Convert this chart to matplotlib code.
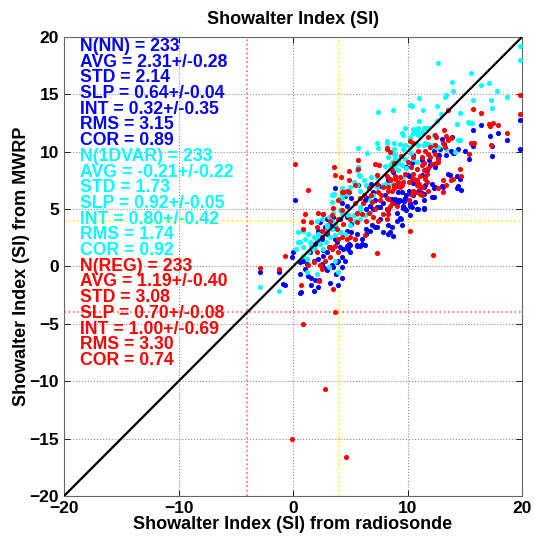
import numpy as np
import matplotlib.pyplot as plt

# Showalter index: radiosonde (x) vs MWRP retrievals (y)
nn = [(19.8, 12.8), (15.7, 11.85), (16.4, 12.3), (17.9, 11.6), (17.2, 11.4), (18.7, 11.0), (19.8, 10.2),
      (17.4, 9.6), (15.7, 10.5), (15.4, 9.4), (13.8, 10.1), (14.1, 9.9), (12.8, 10.2), (12.75, 9.7),
      (11.9, 9.3), (11.7, 8.5), (12.3, 8.9), (13.5, 8.1), (14.3, 7.9), (14.4, 7.0), (13.0, 7.0),
      (12.3, 6.8), (11.3, 6.4), (10.4, 9.0), (10.1, 7.9), (9.7, 5.7), (8.6, 5.9), (8.9, 5.7),
      (9.25, 5.7), (10.3, 6.3), (11.0, 6.7), (3.65, 6.8), (5.7, 7.06), (4.5, 6.1), (0.2, 5.8),
      (5.1, 6.0), (4.25, 5.5), (4.7, 5.3), (6.3, 5.75), (6.7, 5.3), (7.3, 5.2), (7.9, 5.5), (8.2, 5.0),
      (17.4, 10.5), (13.9, 11.3), (13.0, 11.1), (13.2, 10.7), (13.4, 9.75), (14.0, 9.9), (14.4, 10.2),
      (12.3, 10.1), (12.7, 9.5), (11.3, 9.3), (10.5, 9.7), (12.0, 8.8), (12.4, 8.65), (13.7, 8.0),
      (14.6, 7.6), (14.3, 6.8), (14.7, 6.7), (12.1, 7.2), (12.4, 6.9), (11.5, 7.06), (10.9, 6.5),
      (11.4, 6.3), (10.5, 6.2), (10.9, 7.2), (12.3, 6.05), (10.1, 6.6), (9.8, 6.0), (9.3, 5.75),
      (8.9, 5.9), (9.2, 6.5), (8.5, 5.9), (9.05, 5.5), (9.6, 5.3), (10.2, 5.5), (10.65, 5.6),
      (11.4, 5.1), (10.8, 5.0), (9.8, 5.0), (9.9, 8.65), (11.25, 8.0), (11.7, 8.4), (15.0, 10.1),
      (15.6, 10.7), (-2.9, -0.45), (-1.2, -0.5), (0.0, 1.25), (-0.1, 0.8), (0.6, -0.65), (1.05, -0.2),
      (1.35, -0.8), (1.6, -1.0), (1.9, -1.2), (1.6, -1.65), (2.2, -1.8), (3.2, -1.4), (3.95, -1.65),
      (3.75, -0.65), (2.95, -0.2), (3.4, 0.1), (3.8, 0.37), (4.25, -0.05), (4.5, 0.5), (5.0, 1.25),
      (4.4, 1.5), (3.8, 2.1), (4.7, 1.8), (5.0, 1.9), (5.55, 1.9), (5.85, 1.77), (6.3, 1.9), (6.0, 2.4),
      (5.55, 2.85), (5.1, 3.0), (6.4, 3.3), (6.9, 3.6), (7.3, 3.4), (7.6, 4.15), (7.0, 5.0), (7.6, 5.2),
      (6.4, 5.0), (2.05, 2.3), (2.5, 2.4), (2.65, 0.95), (2.95, 1.25), (0.6, -2.3), (-0.85, -1.5),
      (0.67, -2.25), (1.8, -2.1), (2.3, -1.2), (4.25, -1.0), (-0.7, -1.6), (8.3, 4.9), (9.05, 4.7),
      (9.4, 4.15), (8.3, 3.6), (8.5, 3.0), (8.7, 2.65), (10.2, 4.45), (9.6, 5.1), (10.9, 5.0),
      (11.4, 5.0), (10.2, 5.3), (8.3, 2.8), (7.9, 3.0), (8.6, 3.4), (9.35, 4.25), (9.5, 3.6),
      (9.05, 4.0), (9.9, 4.9), (10.4, 5.2), (11.4, 5.75), (12.1, 6.05), (13.1, 6.9), (11.4, 6.9),
      (10.5, 6.5), (9.9, 6.2), (9.2, 5.75), (8.75, 5.5), (7.2, 3.4), (6.7, 3.1), (6.4, 2.85),
      (6.0, 1.98), (5.55, 1.8), (4.8, 1.5), (4.9, 1.98), (4.1, 1.7), (4.25, 0.8), (3.95, 0.5),
      (3.47, -0.05), (2.95, -0.35), (2.65, -0.05), (2.5, 0.23), (2.2, 0.67), (1.8, 0.5), (1.2, 0.23),
      (0.9, 0.5), (0.6, 0.37), (1.5, 1.25), (1.6, 1.7), (1.9, 1.98), (2.65, 1.4), (3.2, 1.7),
      (3.65, 2.4), (2.95, 2.85), (2.5, 2.55), (2.2, 3.1), (2.8, 3.4), (3.2, 3.7), (3.65, 3.4),
      (4.1, 3.0), (4.7, 3.1), (5.1, 3.7), (4.7, 4.3), (4.1, 4.15), (3.5, 4.3), (2.95, 4.15),
      (2.65, 4.6), (2.35, 3.9), (6.5, 6.0), (7.0, 6.5), (7.5, 7.0), (8.0, 6.2), (8.3, 7.5), (9.0, 7.0),
      (9.5, 6.5), (7.2, 5.8), (6.8, 7.2), (8.7, 8.2), (10.0, 8.0), (10.5, 7.3)]

dvar = [(12.7, 17.7), (15.5, 16.9), (19.8, 19.2), (19.8, 17.95), (13.9, 16.1), (17.1, 16.0), (16.4, 15.8),
        (14.0, 15.25), (17.8, 15.3), (13.4, 14.9), (13.3, 14.8), (15.7, 14.5), (18.7, 14.8), (17.3, 14.5),
        (11.0, 14.7), (7.4, 13.5), (8.7, 13.65), (10.2, 14.1), (10.4, 13.95), (11.35, 13.6), (12.55, 14.0),
        (12.6, 12.7), (12.9, 13.3), (14.6, 13.4), (17.4, 13.8), (11.0, 12.7), (15.3, 12.6), (15.4, 12.5),
        (10.5, 12.0), (10.8, 12.0), (11.4, 12.05), (10.5, 11.6), (10.8, 11.8), (12.3, 11.45), (9.6, 11.5),
        (7.3, 10.8), (8.2, 10.9), (7.4, 10.3), (8.85, 10.2), (9.6, 10.2), (11.5, 10.8), (12.5, 10.4),
        (14.55, 11.0), (5.7, 10.3), (6.5, 9.9), (8.8, 9.8), (8.9, 9.4), (9.2, 9.0), (8.5, 8.8), (8.0, 8.75),
        (5.7, 8.65), (5.75, 8.0), (5.85, 7.9), (5.3, 7.35), (4.25, 6.2), (3.5, 6.2), (7.9, 7.06), (8.3, 7.1),
        (7.4, 7.7), (9.9, 8.6), (10.3, 9.9), (9.6, 7.7), (10.95, 12.1), (11.5, 12.1), (11.8, 12.1),
        (10.95, 11.5), (11.25, 11.7), (14.3, 12.4), (15.65, 12.5), (9.5, 11.6), (9.8, 12.1), (10.2, 11.3),
        (8.2, 10.8), (8.8, 10.8), (9.3, 10.7), (9.8, 10.55), (10.2, 10.45), (10.95, 10.6), (11.4, 10.55),
        (11.8, 10.7), (12.25, 10.55), (12.7, 10.45), (13.4, 10.25), (14.4, 11.0), (14.15, 10.0), (8.3, 9.5),
        (8.9, 9.7), (8.6, 9.1), (9.2, 9.25), (9.8, 9.4), (10.5, 9.4), (10.8, 9.1), (9.5, 8.8), (8.9, 8.65),
        (8.5, 8.5), (9.2, 8.4), (5.6, 8.4), (3.4, 5.6), (4.25, 6.0), (-2.9, -1.75), (0.46, 3.0), (0.9, 3.1),
        (1.3, 2.85), (1.05, 2.4), (0.6, 2.1), (1.5, 2.1), (1.8, 2.55), (2.05, 2.4), (1.6, 1.7), (1.3, 1.25),
        (0.9, 0.95), (1.2, 0.67), (1.9, 1.5), (2.35, 1.95), (2.65, 1.5), (2.9, 2.1), (3.2, 2.55), (3.65, 2.7),
        (4.1, 3.0), (4.5, 2.85), (5.0, 3.6), (5.4, 4.0), (5.85, 4.15), (6.3, 4.45), (6.7, 4.7), (5.85, 4.9),
        (5.3, 4.45), (4.8, 4.45), (4.25, 4.6), (3.5, 4.7), (3.1, 4.3), (2.5, 4.15), (2.05, 4.0), (2.95, 3.6),
        (3.4, 3.3), (3.65, 3.7), (2.05, -0.65), (3.1, -0.05), (-1.2, -2.15), (3.4, 6.2), (3.6, 6.3),
        (4.25, 6.8), (4.7, 6.3), (5.55, 7.06), (5.85, 6.6), (6.4, 7.06), (6.7, 5.75), (7.0, 6.2), (7.3, 6.9),
        (8.0, 7.2), (8.75, 7.2), (5.85, 5.2), (5.55, 4.6), (4.1, 4.9), (3.4, 4.0), (2.95, 3.4), (2.2, 2.85),
        (0.9, 1.7), (0.3, 1.5), (0.46, 2.1), (1.2, -0.5), (3.65, 0.5), (3.95, -0.5), (4.0, 5.9), (5.0, 6.9),
        (6.2, 7.5), (6.8, 7.8), (9.0, 9.0)]

reg = [(0.2, 8.95), (1.3, 6.7), (3.6, 8.65), (3.65, 8.0), (4.2, 7.8), (4.9, 8.3), (5.7, 9.3), (5.7, 8.5),
       (4.9, 7.5), (5.4, 7.06), (4.4, 6.45), (4.7, 6.6), (6.6, 6.8), (7.2, 8.95), (7.5, 8.8), (8.85, 9.0),
       (8.2, 10.2), (9.4, 9.6), (10.2, 10.9), (10.5, 10.8), (10.5, 9.55), (10.95, 10.1), (11.3, 9.55),
       (10.0, 9.1), (10.3, 8.7), (11.4, 9.0), (11.4, 8.4), (11.7, 8.1), (11.8, 8.6), (12.5, 9.0), (12.7, 9.4),
       (11.8, 11.3), (12.4, 11.5), (13.2, 11.9), (13.5, 11.0), (13.1, 10.8), (13.8, 11.2), (13.5, 13.6),
       (14.6, 8.5), (13.8, 7.55), (15.7, 13.7), (16.4, 13.4), (17.5, 12.5), (17.2, 12.2), (15.5, 10.8),
       (15.8, 10.8), (15.4, 9.8), (17.3, 10.6), (18.7, 11.65), (19.85, 14.9), (19.8, 13.3), (8.5, 7.6),
       (8.9, 7.9), (8.8, 7.06), (8.3, 6.9), (8.6, 6.6), (9.3, 6.9), (9.6, 7.35), (10.6, 7.6), (10.8, 7.06),
       (11.0, 7.2), (11.3, 6.9), (11.5, 7.75), (11.7, 7.35), (11.8, 6.6), (10.5, 6.6), (11.1, 6.3),
       (7.4, 6.5), (7.7, 6.2), (6.8, 6.2), (6.2, 6.2), (3.5, 5.1), (3.95, 5.75), (4.25, 6.5), (4.85, 6.5),
       (7.3, 8.0), (7.3, 7.2), (7.9, 6.9), (5.85, 6.0), (5.4, 5.5), (6.1, 5.5), (6.9, 5.6), (7.6, 5.75),
       (8.2, 6.0), (17.1, 12.4), (17.9, 12.35), (13.4, 11.4), (12.5, 11.3), (12.4, 10.55), (13.3, 10.4),
       (12.0, 10.4), (11.5, 10.1), (11.8, 9.8), (12.0, 9.5), (12.4, 9.8), (12.7, 9.1), (12.1, 8.95),
       (11.25, 8.8), (10.8, 8.5), (11.1, 7.9), (10.5, 8.1), (10.4, 7.6), (10.8, 7.5), (11.5, 7.6),
       (10.1, 7.35), (9.8, 8.1), (9.3, 7.8), (8.9, 7.6), (9.2, 7.35), (9.5, 7.06), (8.5, 7.5), (8.2, 7.9),
       (8.6, 8.4), (13.1, 7.5), (14.0, 7.6), (14.7, 7.9), (13.4, 7.06), (13.1, 6.5), (12.7, 6.8),
       (11.1, 6.8), (10.65, 6.5), (10.4, 6.3), (10.1, 5.75), (11.25, 6.2), (8.3, 6.6), (8.8, 6.8),
       (8.3, 5.9), (8.2, 10.3), (8.5, 10.0), (-2.9, -0.15), (-1.2, -0.26), (-0.7, 0.9), (0.67, -1.6),
       (2.3, -1.3), (3.5, -1.95), (7.3, 1.16), (1.05, 4.6), (0.9, 4.0), (2.2, 4.7), (2.65, 4.6), (3.4, 4.45),
       (3.95, 4.15), (4.25, 4.9), (0.9, 3.3), (1.6, 3.9), (2.05, 3.4), (2.5, 3.1), (2.95, 3.0), (3.2, 4.0),
       (3.8, 3.3), (3.95, 2.4), (3.1, 1.7), (3.4, 1.5), (3.65, 1.8), (4.25, 2.55), (4.7, 2.4), (3.95, 1.25),
       (3.2, 0.8), (2.8, 0.5), (2.35, 0.1), (2.5, -0.2), (1.8, 0.37), (1.35, 0.1), (2.05, 1.25), (4.4, 3.7),
       (5.0, 4.15), (5.55, 4.7), (6.0, 4.6), (6.4, 4.0), (7.0, 4.3), (7.45, 4.0), (5.0, 2.55), (5.4, 2.4),
       (6.3, 2.7), (3.67, -3.95), (0.9, -5.0), (2.8, -10.65), (-0.1, -15.05), (4.6, -16.6), (8.3, 4.6),
       (8.2, 4.1), (8.5, 5.3), (9.1, 5.3), (10.2, 3.1), (12.2, 1.0), (5.55, 3.9), (6.6, 4.7), (7.2, 5.0),
       (7.9, 4.6), (8.3, 5.0), (8.6, 5.5)]

nn_stats = ['N(NN) = 233', 'AVG = 2.31+/-0.28', 'STD = 2.14', 'SLP = 0.64+/-0.04',
            'INT = 0.32+/-0.35', 'RMS = 3.15', 'COR = 0.89']
dvar_stats = ['N(1DVAR) = 233', 'AVG = -0.21+/-0.22', 'STD = 1.73', 'SLP = 0.92+/-0.05',
              'INT = 0.80+/-0.42', 'RMS = 1.74', 'COR = 0.92']
reg_stats = ['N(REG) = 233', 'AVG = 1.19+/-0.40', 'STD = 3.08', 'SLP = 0.70+/-0.08',
             'INT = 1.00+/-0.69', 'RMS = 3.30', 'COR = 0.74']

# matlab colours
BLUE, CYAN, RED = '#0000ff', '#00ffff', '#ff0000'

plt.rcParams['font.family'] = ['Liberation Sans', 'DejaVu Sans']
plt.rcParams['font.weight'] = 'bold'

fig = plt.figure(figsize=(5.34, 5.46), dpi=100)
ax = fig.add_axes([0.1199, 0.0916, 0.8577, 0.8407])

# threshold lines
ax.axvline(-4, color='#ff6666', ls=':', lw=1.2, zorder=1)
ax.axhline(-4, color='#ff6666', ls=':', lw=1.2, zorder=1)
ax.axvline(4, color='#ffff00', ls=':', lw=1.2, zorder=1)
ax.axhline(4, color='#ffff00', ls=':', lw=1.2, zorder=1)

for pts, col in [(nn, BLUE), (dvar, CYAN), (reg, RED)]:
    xy = np.array(pts)
    ax.plot(xy[:, 0], xy[:, 1], 'o', color=col, ms=3.7, mew=0, zorder=3)

ax.plot([-20, 20], [-20, 20], 'k-', lw=1.6, zorder=4)

# stats block, one line at a time
lines = [(s, BLUE) for s in nn_stats] + [(s, CYAN) for s in dvar_stats] + [(s, RED) for s in reg_stats]
for i, (s, col) in enumerate(lines):
    ax.text(-18.6, 19.17 - 1.368 * i, s, color=col, fontsize=12.7, fontweight='bold',
            va='center', ha='left', zorder=5)

ax.set_xlim(-20, 20)
ax.set_ylim(-20, 20)
ax.set_xticks([-20, -10, 0, 10, 20])
ax.set_yticks(range(-20, 21, 5))
ax.grid(True, ls=':', color='0.55', lw=0.8)
ax.set_axisbelow(True)
ax.tick_params(direction='in', top=True, right=True, length=4, width=0.6, labelsize=12.5)
for sp in ax.spines.values():
    sp.set_color('0.4')
    sp.set_linewidth(0.8)

ax.set_title('Showalter Index (SI)', fontsize=13, fontweight='bold', pad=9)
ax.set_xlabel('Showalter Index (SI) from radiosonde', fontsize=13, fontweight='bold', labelpad=0)
ax.set_ylabel('Showalter Index (SI) from MWRP', fontsize=13, fontweight='bold', labelpad=0)

fig.savefig('out.png', dpi=100)
